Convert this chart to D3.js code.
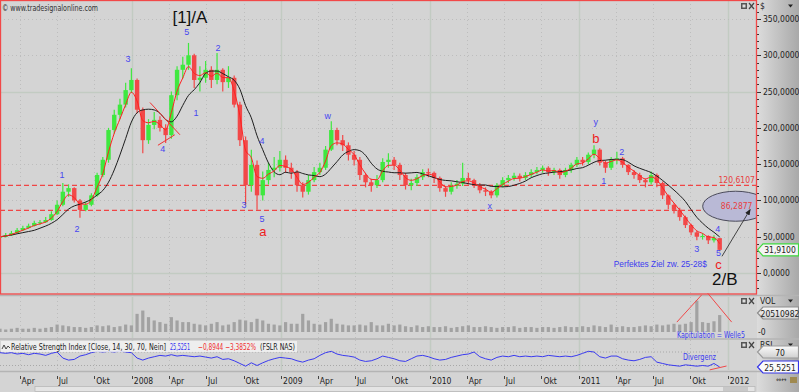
<!DOCTYPE html>
<html>
<head>
<meta charset="utf-8">
<script src="https://cdn.jsdelivr.net/npm/d3@7"></script>
<style>
  body { margin: 0; background: #d4d4d4; }
  svg { display: block; font-family: "DejaVu Sans Condensed", "Liberation Sans", sans-serif; }
</style>
</head>
<body>
<svg id="chart" width="799" height="392"></svg>
<script>
// FSLR, bars every two weeks starting 12 Feb 2007
var startDate = new Date(2007, 1, 12);
var barDays = 14;

var closes = [50,52,55,59,62,65,69,70,73,81,
  94,112,117,100,87,94,107,135,156,197,
  218,232,252,266,225,183,204,211,200,190,
  245,280,287,300,266,269,280,266,280,263,
  269,232,183,121,149,107,128,142,145,156,
  145,139,121,112,128,139,145,170,197,183,
  176,163,156,135,125,121,128,153,156,149,
  135,121,124,132,139,138,131,117,112,120,
  123,131,128,121,114,112,107,121,128,131,
  134,131,135,139,142,145,139,142,135,142,
  149,156,153,163,170,152,145,156,158,149,
  139,135,128,125,135,124,107,94,87,77,
  66,56,50,51,45,48,31.91];

var highs = [53,55,58,62,65,68,72,73,77,85,
  100,124,122,118,102,98,110,138,160,200,
  225,240,262,282,268,228,212,222,216,205,
  250,285,298,317,302,285,292,285,303,282,
  285,272,236,188,170,155,140,152,160,168,
  162,152,142,125,135,146,152,175,209,200,
  190,180,168,160,138,130,135,158,165,160,
  152,138,130,136,143,144,140,133,120,125,
  128,152,138,130,124,118,114,124,132,135,
  138,137,139,143,146,148,147,145,144,145,
  152,160,160,166,176,172,155,160,167,160,
  150,142,138,130,140,137,126,108,96,90,
  79,68,58,55,52,52,48];

var lows = [47,49,51,54,58,61,64,66,69,72,
  80,92,105,97,76,85,92,105,132,152,
  192,212,228,248,220,165,178,198,195,179,
  185,238,268,280,255,250,262,255,260,250,
  255,228,175,94,112,87,100,122,132,140,
  138,130,112,104,108,125,135,142,168,176,
  168,155,148,128,118,112,117,125,145,142,
  128,115,114,120,128,132,124,112,105,108,
  116,120,122,117,110,106,103,104,118,124,
  127,126,128,132,136,138,134,135,130,132,
  138,146,148,150,158,148,138,142,150,145,
  135,130,124,118,122,118,102,88,82,72,
  62,52,45,46,40,42,30];

// volume, millions of shares
var volumes = [4,3,4,5,4,4,5,4,5,6,
  9,8,7,6,6,5,6,8,7,8,
  6,7,9,8,22,26,18,14,12,10,
  18,14,12,12,10,9,8,10,12,8,
  9,12,15,14,12,16,14,10,9,8,
  12,10,10,22,14,10,9,12,16,10,
  9,8,8,9,8,12,8,8,10,8,
  9,7,6,8,6,7,6,6,7,5,
  6,7,8,6,6,7,6,5,6,6,
  7,5,6,6,5,6,6,5,6,7,
  6,6,7,6,8,7,6,9,6,7,
  6,6,7,8,7,9,8,9,10,9,
  10,12,38,12,11,13,20.51];

var rsi = [68,66,68,64,66,62,66,64,60,66,
  70,52,46,48,58,62,68,72,70,72,
  70,73,70,68,52,46,52,56,60,58,
  62,58,60,58,56,58,55,52,56,48,
  50,44,36,28,38,30,38,45,50,54,
  52,50,44,40,46,50,60,68,72,64,
  60,58,55,46,42,44,50,58,54,50,
  44,42,50,58,60,56,50,46,48,54,
  58,62,64,70,56,50,46,54,58,56,
  60,56,58,56,58,56,60,58,56,58,
  56,60,66,72,70,56,52,58,58,50,
  46,44,48,54,56,40,36,32,30,28,
  32,30,28,30,28,36,25.5251];

var priceTicks = [0, 50, 100, 150, 200, 250, 300, 350];
var levels = [120.6107, 86.2877];
var lastVolume = 20510982;
var rsiLevels = [70, 30];
var rsiChange = -0.8944, rsiChangePct = -3.3852;
var monthNames = {3: "Apr", 6: "Jul", 9: "Okt"};

// wave counts: bar index, price, text, kind
var waveLabels = [
  {i: 33.25, v: 352, t: "[1]/A", k: "big"},
  {i: 32.7, v: 332, t: "5", k: "num"},
  {i: 22.4, v: 295, t: "3", k: "num"},
  {i: 38.15, v: 310, t: "2", k: "num"},
  {i: 34.3, v: 220, t: "1", k: "num"},
  {i: 28.5, v: 171, t: "4", k: "num"},
  {i: 10.85, v: 135, t: "1", k: "num"},
  {i: 13.5, v: 60, t: "2", k: "num"},
  {i: 45.85, v: 182, t: "4", k: "num"},
  {i: 42.7, v: 94, t: "3", k: "num"},
  {i: 45.85, v: 74, t: "5", k: "num"},
  {i: 46.0, v: 57, t: "a", k: "letter"},
  {i: 57.4, v: 216, t: "w", k: "num"},
  {i: 85.75, v: 92, t: "x", k: "num"},
  {i: 104.3, v: 208, t: "y", k: "num"},
  {i: 104.3, v: 186, t: "b", k: "letter"},
  {i: 105.7, v: 127, t: "1", k: "num"},
  {i: 108.85, v: 167, t: "2", k: "num"},
  {i: 122.0, v: 33, t: "3", k: "num"},
  {i: 125.65, v: 60, t: "4", k: "num"},
  {i: 125.8, v: 27, t: "5", k: "num"},
  {i: 125.8, v: 12, t: "c", k: "letter"},
  {i: 126.9, v: -9, t: "2/B", k: "big"},
  {i: 115.6, v: 12, t: "Perfektes Ziel zw. 25-28$", k: "note"}
];
// triangle of wave 4 (bar index, price)
var triangle = [[[26.25, 235], [31.5, 190.5]], [[27.65, 176], [30.6, 190.5]]];
var targetArrow = [[126.4, 23], [131.3, 87]];
var targetZone = {i: 128.8, v: 92};
var capitulation = [[[118.5, 12], [122.85, 45]], [[123.9, 47], [128.1, 12]]];
var divergence = [[124.25, 17], [127.2, 28.5]];

// ---------- layout ----------
var W = 799, H = 392, plotR = 756;
var mainP = {top: 0, bottom: 294}, volP = {top: 297, bottom: 338}, rsiP = {top: 340, bottom: 370};

var dateAt = function(i){ return new Date(startDate.getTime() + i * barDays * 864e5); };
var x = d3.scaleTime().domain([new Date(2007, 1, 12), new Date(2012, 2, 10)]).range([0, plotR]);
var y = d3.scaleLinear().domain([0, 350]).range([273, 19]);
var yVol = d3.scaleLinear().domain([0, 40]).range([332, 299]);
var yRsi = d3.scaleLinear().domain([30, 70]).range([365.5, 352]);
var de = d3.formatLocale({decimal: ",", thousands: ".", grouping: [3], currency: ["", "$"]});
var fmt4 = de.format(".4f");

var svg = d3.select("#chart");
var defs = svg.append("defs");
var g1 = defs.append("linearGradient").attr("id", "axisGrad");
g1.append("stop").attr("offset", "0%").attr("stop-color", "#dcdcdc");
g1.append("stop").attr("offset", "100%").attr("stop-color", "#a9a9a9");
var g2 = defs.append("linearGradient").attr("id", "tagGrad").attr("x2", 0).attr("y2", 1);
g2.append("stop").attr("offset", "0%").attr("stop-color", "#fafafa");
g2.append("stop").attr("offset", "100%").attr("stop-color", "#d0d0d0");
defs.append("clipPath").attr("id", "clipMain").append("rect")
  .attr("x", 0).attr("y", 0).attr("width", plotR).attr("height", mainP.bottom);
defs.append("marker").attr("id", "arrowHead").attr("viewBox", "0 0 10 10")
  .attr("refX", 8).attr("refY", 5).attr("markerWidth", 7).attr("markerHeight", 7)
  .attr("orient", "auto").append("path").attr("d", "M0,1 L10,5 L0,9 Z").attr("fill", "#222");

svg.append("rect").attr("width", W).attr("height", H).attr("fill", "#d4d4d4");
svg.append("rect").attr("x", plotR + 1).attr("width", W - plotR - 1).attr("height", H).attr("fill", "url(#axisGrad)");

// separators
[mainP.bottom + 1.5, volP.bottom + 1, rsiP.bottom + 1.5].forEach(function(yy){
  svg.append("line").attr("x1", 0).attr("x2", W).attr("y1", yy).attr("y2", yy)
    .attr("stroke", "#b4b4b4").attr("stroke-width", 1.5);
});

// ---------- grid ----------
var quarters = d3.timeMonth.every(3).range(x.domain()[0], x.domain()[1]);
var grid = svg.append("g");
[[mainP.top, mainP.bottom], [volP.top, volP.bottom], [rsiP.top, rsiP.bottom]].forEach(function(p){
  grid.selectAll(null).data(quarters).enter().append("line")
    .attr("x1", function(d){ return Math.round(x(d)) + 0.5; })
    .attr("x2", function(d){ return Math.round(x(d)) + 0.5; })
    .attr("y1", p[0]).attr("y2", p[1])
    .attr("stroke", function(d){ return d.getMonth() === 0 ? "#c2cbc2" : "#bdbdbd"; })
    .attr("stroke-width", function(d){ return d.getMonth() === 0 ? 1.5 : 1; })
    .attr("stroke-dasharray", function(d){ return d.getMonth() === 0 ? null : "1,3"; });
});
grid.selectAll(null).data(priceTicks).enter().append("line")
  .attr("x1", 0).attr("x2", plotR)
  .attr("y1", function(d){ return Math.round(y(d)) + 0.5; })
  .attr("y2", function(d){ return Math.round(y(d)) + 0.5; })
  .attr("stroke", function(d){ return d % 250 === 0 ? "#c2cbc2" : "#bdbdbd"; })
  .attr("stroke-width", function(d){ return d % 250 === 0 ? 1.5 : 1; })
  .attr("stroke-dasharray", function(d){ return d % 250 === 0 ? null : "1,3"; });

// ---------- price panel ----------
var main = svg.append("g").attr("clip-path", "url(#clipMain)");
main.selectAll(null).data(levels).enter().append("line")
  .attr("x1", 0).attr("x2", plotR)
  .attr("y1", function(d){ return y(d); }).attr("y2", function(d){ return y(d); })
  .attr("stroke", "#f04545").attr("stroke-width", 1.3).attr("stroke-dasharray", "5,3");

var bars = closes.map(function(c, i){
  var o = i === 0 ? lows[0] + (c - lows[0]) * 0.5 : closes[i - 1];
  return {d: dateAt(i), o: o, c: c, h: Math.max(highs[i], o, c), l: Math.min(lows[i], o, c)};
});
var up = function(b){ return b.c >= b.o ? "#3fe83f" : "#f24848"; };
main.selectAll(null).data(bars).enter().append("line")
  .attr("x1", function(b){ return x(b.d); }).attr("x2", function(b){ return x(b.d); })
  .attr("y1", function(b){ return y(b.h); }).attr("y2", function(b){ return y(b.l); })
  .attr("stroke", up).attr("stroke-width", 1.2);
main.selectAll(null).data(bars).enter().append("rect")
  .attr("x", function(b){ return x(b.d) - 2.2; }).attr("width", 4.4)
  .attr("y", function(b){ return y(Math.max(b.o, b.c)); })
  .attr("height", function(b){ return Math.max(1, Math.abs(y(b.o) - y(b.c))); })
  .attr("fill", up);

// moving averages
var ema = [];
closes.forEach(function(c, i){ ema.push(i === 0 ? c : ema[i - 1] + 0.5 * (c - ema[i - 1])); });
var sma = closes.map(function(c, i){ return d3.mean(closes.slice(Math.max(0, i - 6), i + 1)); });
var maLine = d3.line().curve(d3.curveMonotoneX)
  .x(function(d, i){ return x(dateAt(i)); }).y(function(d){ return y(d); });
main.append("path").attr("d", maLine(sma)).attr("fill", "none").attr("stroke", "#1e1e1e").attr("stroke-width", 1);
main.append("path").attr("d", maLine(ema)).attr("fill", "none").attr("stroke", "#ff2020").attr("stroke-width", 1);

// annotations
var px = function(p){ return x(dateAt(p[0])); };
main.selectAll(null).data(triangle).enter().append("line")
  .attr("x1", function(s){ return px(s[0]); }).attr("y1", function(s){ return y(s[0][1]); })
  .attr("x2", function(s){ return px(s[1]); }).attr("y2", function(s){ return y(s[1][1]); })
  .attr("stroke", "#f03030").attr("stroke-width", 1);

main.append("ellipse")
  .attr("cx", x(dateAt(targetZone.i))).attr("cy", y(targetZone.v)).attr("rx", 33).attr("ry", 15)
  .attr("fill", "#b9b9d6").attr("stroke", "#4a4a5a").attr("stroke-width", 1);
main.append("text").attr("x", x(dateAt(targetZone.i)) + 1).attr("y", y(levels[1]) - 1.5)
  .attr("text-anchor", "middle").attr("font-size", 8.5).attr("fill", "#e84040")
  .text(fmt4(levels[1]));
main.append("text").attr("x", x(dateAt(targetZone.i)) + 1).attr("y", y(levels[0]) - 2.5)
  .attr("text-anchor", "middle").attr("font-size", 8.5).attr("fill", "#e84040")
  .text(fmt4(levels[0]));
main.append("line")
  .attr("x1", px(targetArrow[0])).attr("y1", y(targetArrow[0][1]))
  .attr("x2", px(targetArrow[1])).attr("y2", y(targetArrow[1][1]))
  .attr("stroke", "#333").attr("stroke-width", 0.9).attr("marker-end", "url(#arrowHead)");

var labelStyle = {
  num: {size: 9, color: "#4646f0", font: "Liberation Sans"},
  letter: {size: 13, color: "#ee1c1c", font: "Liberation Sans"},
  big: {size: 17, color: "#111", font: "Liberation Sans"},
  note: {size: 9, color: "#3c3cf0", font: "Liberation Sans"}
};
main.selectAll(null).data(waveLabels).enter().append("text")
  .attr("x", function(d){ return x(dateAt(d.i)); })
  .attr("y", function(d){ return y(d.v); })
  .attr("text-anchor", "middle").attr("dominant-baseline", "central")
  .attr("font-family", function(d){ return labelStyle[d.k].font; })
  .attr("font-size", function(d){ return labelStyle[d.k].size; })
  .attr("fill", function(d){ return labelStyle[d.k].color; })
  .attr("textLength", function(d){ return d.k === "note" ? 93 : null; })
  .attr("lengthAdjust", "spacingAndGlyphs")
  .text(function(d){ return d.t; });

svg.append("text").attr("x", 2).attr("y", 8).attr("dominant-baseline", "central")
  .attr("font-size", 8.5).attr("fill", "#333").attr("textLength", 96).attr("lengthAdjust", "spacingAndGlyphs")
  .text("\u00a9 www.tradesignalonline.com");

// ---------- volume panel ----------
svg.append("g").selectAll(null).data(volumes).enter().append("rect")
  .attr("x", function(v, i){ return x(dateAt(i)) - 1.6; }).attr("width", 3.2)
  .attr("y", function(v){ return yVol(v); })
  .attr("height", function(v){ return yVol(0) - yVol(v); })
  .attr("fill", "#a2a2a2");
svg.append("g").selectAll(null).data(capitulation).enter().append("line")
  .attr("x1", function(s){ return px(s[0]); }).attr("y1", function(s){ return yVol(s[0][1]); })
  .attr("x2", function(s){ return px(s[1]); }).attr("y2", function(s){ return yVol(s[1][1]); })
  .attr("stroke", "#f04848").attr("stroke-width", 1);
svg.append("text").attr("x", 677).attr("y", 335).attr("dominant-baseline", "central")
  .attr("font-size", 8.5).attr("fill", "#3c3cf0").attr("textLength", 68).attr("lengthAdjust", "spacingAndGlyphs")
  .text("Kapitulation = Welle5");

// ---------- RSI panel ----------
svg.append("g").selectAll(null).data(rsiLevels).enter().append("line")
  .attr("x1", 0).attr("x2", x(dateAt(closes.length - 1)))
  .attr("y1", function(d){ return yRsi(d); }).attr("y2", function(d){ return yRsi(d); })
  .attr("stroke", "#a8a8a8").attr("stroke-dasharray", "1,2");
svg.append("path").attr("d", d3.line().x(function(d, i){ return x(dateAt(i)); }).y(function(d){ return yRsi(d); })(rsi))
  .attr("fill", "none").attr("stroke", "#3a3af0").attr("stroke-width", 1);
svg.append("line")
  .attr("x1", px(divergence[0])).attr("y1", yRsi(divergence[0][1]))
  .attr("x2", px(divergence[1])).attr("y2", yRsi(divergence[1][1]))
  .attr("stroke", "#f04848").attr("stroke-width", 1);
svg.append("text").attr("x", 683).attr("y", 357).attr("dominant-baseline", "central")
  .attr("font-size", 9).attr("fill", "#3c3cf0").attr("textLength", 33).attr("lengthAdjust", "spacingAndGlyphs")
  .text("Divergenz");

svg.append("rect").attr("x", 1).attr("y", 341).attr("width", 296).attr("height", 11).attr("fill", "#f2f2f2").attr("opacity", 0.85);
svg.append("path").attr("d", "M2,349 L4,345 L6,349 L8,346 L10,348").attr("fill", "none").attr("stroke", "#333").attr("stroke-width", 0.9);
var titleParts = [
  {t: "Relative Strength Index [Close, 14, 30, 70, Nein]", x0: 11, w: 155, c: "#222"},
  {t: fmt4(rsi[rsi.length - 1]), x0: 170, w: 20, c: "#3030f0"},
  {t: fmt4(rsiChange) + " " + fmt4(rsiChangePct) + "%", x0: 198, w: 58, c: "#f03030"},
  {t: "(FSLR NAS)", x0: 260, w: 35, c: "#222"}
];
svg.append("g").selectAll(null).data(titleParts).enter().append("text")
  .attr("x", function(d){ return d.x0; }).attr("y", 346.8).attr("dominant-baseline", "central")
  .attr("font-size", 9).attr("fill", function(d){ return d.c; })
  .attr("textLength", function(d){ return d.w; }).attr("lengthAdjust", "spacingAndGlyphs")
  .text(function(d){ return d.t; });

// ---------- time axis ----------
var axisG = svg.append("g");
axisG.selectAll(null).data(quarters).enter().append("line")
  .attr("x1", function(d){ return Math.round(x(d)) + 0.5; }).attr("x2", function(d){ return Math.round(x(d)) + 0.5; })
  .attr("y1", 376).attr("y2", 379).attr("stroke", "#444");
axisG.selectAll(null).data(quarters).enter().append("text")
  .attr("x", function(d){ return x(d) + 2; }).attr("y", 381).attr("dominant-baseline", "central")
  .attr("font-size", 8.5).attr("fill", "#222")
  .text(function(d){ return d.getMonth() === 0 ? d.getFullYear() : monthNames[d.getMonth()]; });
svg.append("rect").attr("x", 35).attr("y", 386.5).attr("width", 720).attr("height", 5).attr("fill", "#e4e4e4").attr("stroke", "#b8b8b8").attr("stroke-width", 0.8);
svg.append("rect").attr("x", 723).attr("y", 387).attr("width", 25).attr("height", 4).attr("fill", "#c8c8c8");

// ---------- right axis ----------
var ax = svg.append("g");
ax.selectAll(null).data(d3.range(-20, 380, 10)).enter().append("line")
  .attr("x1", plotR + 1).attr("x2", function(d){ return d % 50 === 0 ? plotR + 5 : plotR + 3; })
  .attr("y1", function(d){ return Math.round(y(d)) + 0.5; }).attr("y2", function(d){ return Math.round(y(d)) + 0.5; })
  .attr("stroke", "#333");
ax.selectAll(null).data(priceTicks).enter().append("text")
  .attr("x", plotR + 7).attr("y", function(d){ return y(d); }).attr("dominant-baseline", "central")
  .attr("font-size", 8.5).attr("fill", "#222").text(function(d){ return fmt4(d); });
ax.append("text").attr("x", 760).attr("y", 6).attr("dominant-baseline", "central").attr("font-size", 8.5).attr("fill", "#222").text("$");
[[6, ""], [301, "VOL"], [345, "RSI"]].forEach(function(p){
  ax.append("path").attr("d", "M788," + (p[0] - 1.5) + " l5,0 l-2.5,3 Z").attr("fill", "#222");
  if (p[1]) ax.append("text").attr("x", 760).attr("y", p[0]).attr("dominant-baseline", "central")
    .attr("font-size", 8.5).attr("fill", "#222").text(p[1]);
  var iy = p[0] === 6 ? 3 : p[0] - 3;
  ax.append("rect").attr("x", 741).attr("y", iy).attr("width", 6).attr("height", 6).attr("fill", "#555");
  ax.append("rect").attr("x", 742.5).attr("y", iy + 1.5).attr("width", 3).attr("height", 3).attr("fill", "#ddd");
  ax.append("path").attr("d", "M749," + iy + " l5,6 M754," + iy + " l-5,6").attr("stroke", "#444").attr("stroke-width", 1.2);
});
ax.append("text").attr("x", plotR + 2).attr("y", yVol(0)).attr("dominant-baseline", "central")
  .attr("font-size", 8.5).attr("fill", "#222").text("-0");

function tag(yy, label, stroke, fill) {
  ax.append("path").attr("d", "M757.5," + yy + " L763," + (yy - 6) + " L798.5," + (yy - 6) + " L798.5," + (yy + 6) + " L763," + (yy + 6) + " Z")
    .attr("fill", fill).attr("stroke", stroke).attr("stroke-width", 1.2);
  ax.append("text").attr("x", 780).attr("y", yy + 0.5).attr("text-anchor", "middle").attr("dominant-baseline", "central")
    .attr("font-size", 8.5).attr("fill", "#222").text(label);
}
tag(y(closes[closes.length - 1]), fmt4(closes[closes.length - 1]), "#3fd83f", "#f4f4f4");
tag(313, String(lastVolume), "#8c8c8c", "url(#tagGrad)");
tag(yRsi(rsiLevels[0]), "70", "#9a9a9a", "url(#tagGrad)");
tag(yRsi(rsi[rsi.length - 1]), fmt4(rsi[rsi.length - 1]), "#3434e8", "#fafafa");

// bottom-right buttons
ax.append("text").attr("x", 776).attr("y", 380).attr("dominant-baseline", "central").attr("font-size", 7).attr("fill", "#333").text("\u21d4\u2194");
ax.append("rect").attr("x", 790).attr("y", 377).attr("width", 7).attr("height", 6).attr("fill", "#a08a50");

// main panel frame
svg.append("rect").attr("x", 0.5).attr("y", 0.5).attr("width", plotR).attr("height", mainP.bottom - 0.5)
  .attr("fill", "none").attr("stroke", "#f24848").attr("stroke-width", 1.3);
</script>
</body>
</html>
